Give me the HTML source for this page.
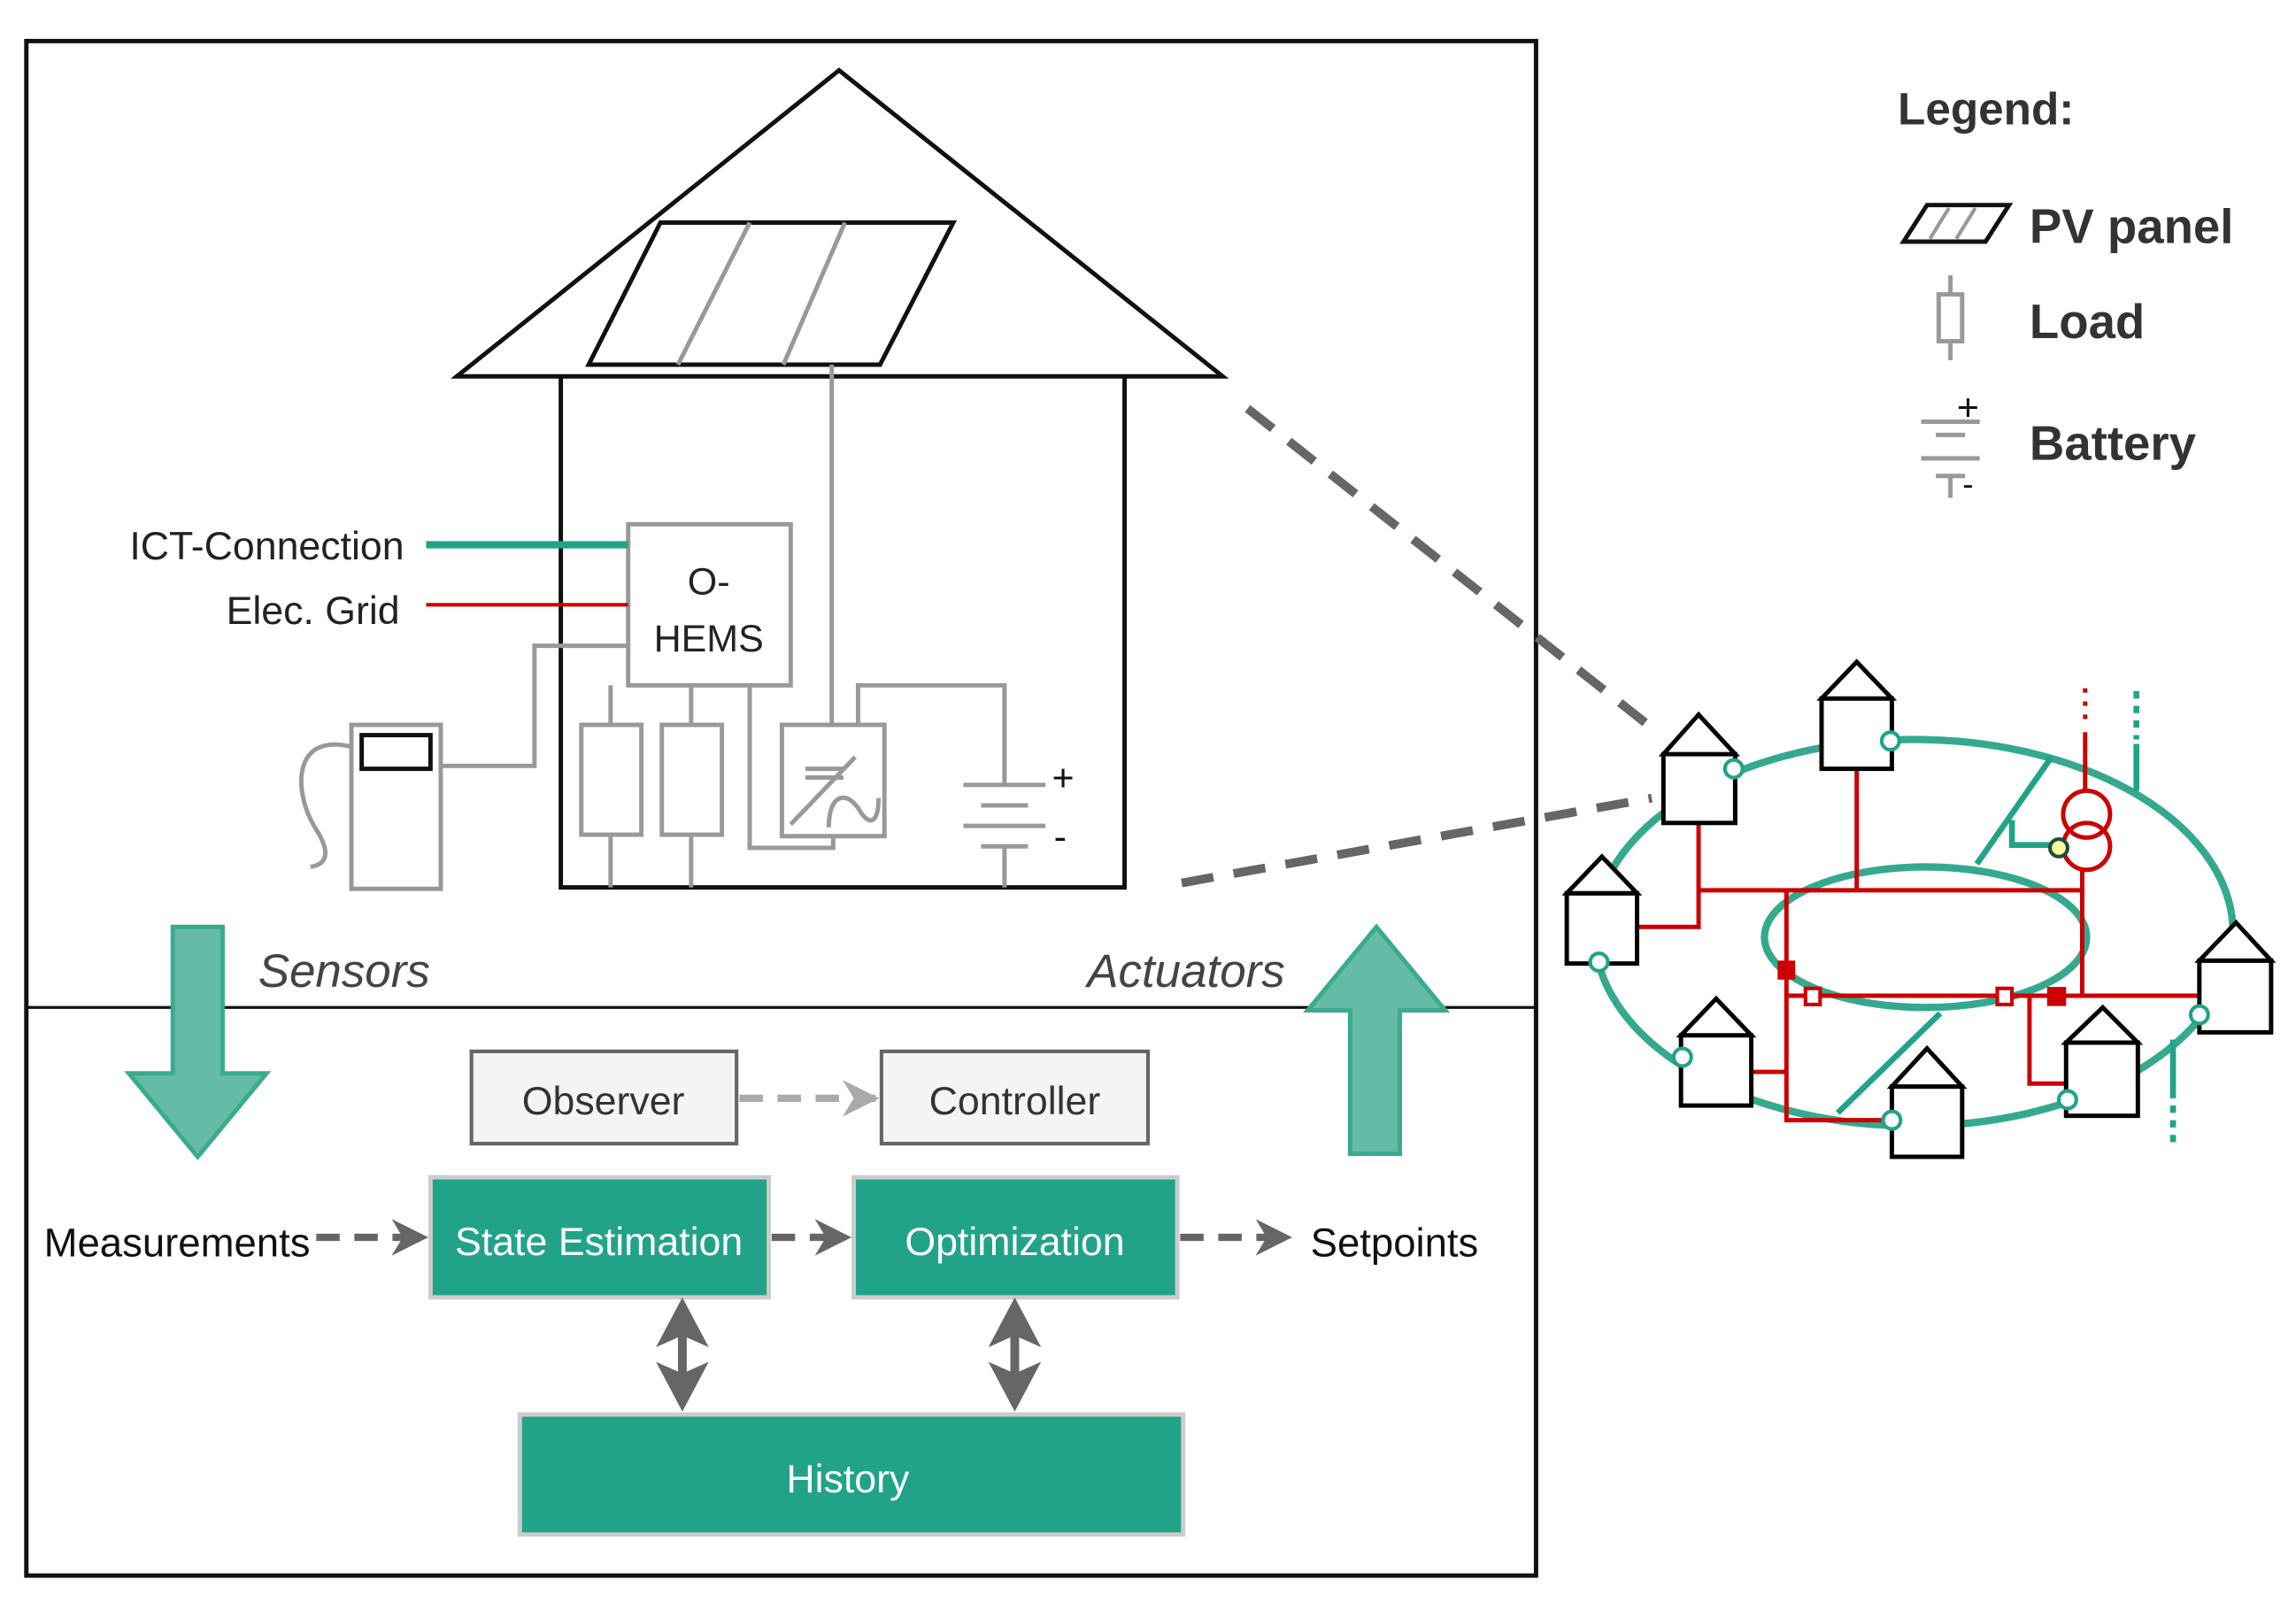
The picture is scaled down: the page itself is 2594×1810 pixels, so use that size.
<!DOCTYPE html>
<html><head><meta charset="utf-8"><style>
html,body{margin:0;padding:0;background:#fff;}
svg{display:block;}
text{font-family:"Liberation Sans",sans-serif;}
</style></head><body>
<svg width="2594" height="1810" viewBox="0 0 1568 1094" xmlns="http://www.w3.org/2000/svg">
<defs>
<marker id="ah" viewBox="0 0 10 10" refX="9" refY="5" markerWidth="5" markerHeight="5" orient="auto"><path d="M0,0 L10,5 L0,10 L3,5 Z" fill="#666"/></marker>
<marker id="ahl" viewBox="0 0 10 10" refX="9" refY="5" markerWidth="5" markerHeight="5" orient="auto"><path d="M0,0 L10,5 L0,10 L3,5 Z" fill="#aaa"/></marker>
</defs>
<rect x="18" y="28" width="1031" height="1048" fill="none" stroke="#111" stroke-width="3"/>
<line x1="18" y1="688" x2="1049" y2="688" stroke="#111" stroke-width="2"/>
<polygon points="312,257 573,48 835,257" fill="none" stroke="#111" stroke-width="3"/>
<polyline points="383,257 383,606 768,606 768,257" fill="none" stroke="#111" stroke-width="3"/>
<polygon points="402,249 451,152 651,152 601,249" fill="none" stroke="#111" stroke-width="3"/>
<line x1="463" y1="249" x2="512" y2="152" stroke="#999" stroke-width="3"/>
<line x1="535" y1="249" x2="577" y2="152" stroke="#999" stroke-width="3"/>
<g stroke="#999" stroke-width="3" fill="none">
<line x1="568" y1="249" x2="568" y2="495"/>
<rect x="429" y="358" width="111" height="110" fill="#fff"/>
<polyline points="429,441 365,441 365,523 301,523"/>
<rect x="240" y="495" width="61" height="112"/>
<path d="M240,510 C200,500 200,540 215,565 C225,580 225,590 212,592"/>
<line x1="417" y1="468" x2="417" y2="495"/>
<line x1="472" y1="468" x2="472" y2="495"/>
<rect x="397" y="495" width="41" height="75"/>
<rect x="452" y="495" width="41" height="75"/>
<line x1="417" y1="570" x2="417" y2="606"/>
<line x1="472" y1="570" x2="472" y2="606"/>
<polyline points="512,468 512,579 569,579 569,571"/>
<rect x="534" y="495" width="70" height="76"/>
<line x1="540" y1="563" x2="584" y2="517"/>
<line x1="550" y1="525" x2="576" y2="525"/><line x1="550" y1="531" x2="576" y2="531"/>
<path d="M566,565 C566,540 580,540 588,555 C595,565 600,560 600,545"/>
<polyline points="586,495 586,468 686,468 686,535"/>
<line x1="658" y1="536" x2="714" y2="536"/>
<line x1="670" y1="550" x2="702" y2="550"/>
<line x1="658" y1="564" x2="714" y2="564"/>
<line x1="670" y1="578" x2="702" y2="578"/>
<line x1="686" y1="578" x2="686" y2="606"/>
</g>
<rect x="247" y="502" width="47" height="23" fill="#fff" stroke="#111" stroke-width="3"/>
<text x="726" y="540" font-size="26" text-anchor="middle" fill="#111">+</text>
<text x="724" y="580" font-size="26" text-anchor="middle" fill="#111">-</text>
<text x="484" y="406" font-size="26" text-anchor="middle" fill="#222">O-</text>
<text x="484" y="445" font-size="26" text-anchor="middle" fill="#222">HEMS</text>
<line x1="291" y1="372" x2="429" y2="372" stroke="#21a389" stroke-width="5"/>
<line x1="291" y1="413" x2="429" y2="413" stroke="#cc0000" stroke-width="2.5"/>
<text x="276" y="382" font-size="27" text-anchor="end" fill="#222">ICT-Connection</text>
<text x="273" y="426" font-size="27" text-anchor="end" fill="#222">Elec. Grid</text>
<line x1="852" y1="279" x2="1128" y2="497" stroke="#666" stroke-width="6" stroke-dasharray="22,14"/>
<line x1="807" y1="603" x2="1128" y2="545" stroke="#666" stroke-width="6" stroke-dasharray="22,14"/>
<polygon points="118,633 152,633 152,733 182,733 135,790 88,733 118,733" fill="#64bca6" stroke="#3aaa8e" stroke-width="3"/>
<polygon points="940,633 987,690 956,690 956,788 922,788 922,690 893,690" fill="#64bca6" stroke="#3aaa8e" stroke-width="3"/>
<text x="235" y="674" font-size="32" font-style="italic" text-anchor="middle" fill="#444">Sensors</text>
<text x="810" y="674" font-size="32" font-style="italic" text-anchor="middle" fill="#444">Actuators</text>
<rect x="322" y="718" width="181" height="63" fill="#f4f4f4" stroke="#666" stroke-width="2.5"/>
<rect x="602" y="718" width="182" height="63" fill="#f4f4f4" stroke="#666" stroke-width="2.5"/>
<text x="412" y="761" font-size="27" text-anchor="middle" fill="#333">Observer</text>
<text x="693" y="761" font-size="27" text-anchor="middle" fill="#333">Controller</text>
<line x1="505" y1="750" x2="598" y2="750" stroke="#aaa" stroke-width="5" stroke-dasharray="16,10" marker-end="url(#ahl)"/>
<rect x="294" y="804" width="231" height="82" fill="#21a389" stroke="#ccc" stroke-width="3"/>
<rect x="583" y="804" width="221" height="82" fill="#21a389" stroke="#ccc" stroke-width="3"/>
<rect x="355" y="966" width="453" height="82" fill="#21a389" stroke="#ccc" stroke-width="3"/>
<text x="409" y="857" font-size="27" text-anchor="middle" fill="#fff">State Estimation</text>
<text x="693" y="857" font-size="27" text-anchor="middle" fill="#fff">Optimization</text>
<text x="579" y="1019" font-size="27" text-anchor="middle" fill="#fff">History</text>
<text x="30" y="858" font-size="27.5" fill="#111">Measurements</text>
<text x="895" y="858" font-size="27.5" fill="#111">Setpoints</text>
<g stroke="#666" stroke-width="5" fill="none" stroke-dasharray="16,10">
<line x1="216" y1="845" x2="290" y2="845" marker-end="url(#ah)"/>
<line x1="527" y1="845" x2="579" y2="845" marker-end="url(#ah)"/>
<line x1="806" y1="845" x2="880" y2="845" marker-end="url(#ah)"/>
</g>
<g fill="#666" stroke="none">
<polygon points="466,886 484,920 466,912 448,920"/>
<polygon points="466,964 484,930 466,938 448,930"/>
<rect x="463" y="912" width="6" height="26"/>
<polygon points="693,886 711,920 693,912 675,920"/>
<polygon points="693,964 711,930 693,938 675,930"/>
<rect x="690" y="912" width="6" height="26"/>
</g>
<g fill="none">
<ellipse cx="1307" cy="637" rx="218" ry="132" stroke="#35a98f" stroke-width="5"/>
<ellipse cx="1315" cy="640" rx="110" ry="48" stroke="#35a98f" stroke-width="5"/>
<line x1="1350" y1="590" x2="1401" y2="517" stroke="#21a389" stroke-width="4"/>
<polyline points="1374,560 1374,577 1404,577" stroke="#21a389" stroke-width="4"/>
<line x1="1255" y1="760" x2="1325" y2="692" stroke="#21a389" stroke-width="4"/>
<line x1="1459" y1="508" x2="1459" y2="540" stroke="#21a389" stroke-width="4"/>
<line x1="1459" y1="472" x2="1459" y2="505" stroke="#21a389" stroke-width="4" stroke-dasharray="5,5"/>
<line x1="1484" y1="710" x2="1484" y2="750" stroke="#21a389" stroke-width="4"/>
<line x1="1484" y1="755" x2="1484" y2="782" stroke="#21a389" stroke-width="4" stroke-dasharray="5,5"/>
<g stroke="#cc0000" stroke-width="3">
<polyline points="1160,562 1160,633 1118,633"/>
<line x1="1160" y1="608" x2="1422" y2="608"/>
<line x1="1268" y1="525" x2="1268" y2="608"/>
<polyline points="1422,594 1422,680"/>
<polyline points="1220,608 1220,765 1292,765"/>
<line x1="1196" y1="732" x2="1220" y2="732"/>
<line x1="1220" y1="680" x2="1502" y2="680"/>
<polyline points="1386,680 1386,740 1411,740"/>
<line x1="1424" y1="500" x2="1424" y2="540"/>
<line x1="1424" y1="470" x2="1424" y2="495" stroke-dasharray="3,6"/>
<circle cx="1425" cy="556" r="16"/>
<circle cx="1425" cy="578" r="16"/>
</g>
<rect x="1214" y="656" width="12" height="13" fill="#cc0000"/>
<rect x="1398" y="674" width="13" height="13" fill="#cc0000"/>
<rect x="1233" y="675" width="10" height="11" fill="#fff" stroke="#cc0000" stroke-width="2.5"/>
<rect x="1364" y="675" width="10" height="11" fill="#fff" stroke="#cc0000" stroke-width="2.5"/>
<circle cx="1406" cy="579" r="6" fill="#ffff99" stroke="#1d4d40" stroke-width="2.5"/>
<g stroke="#000" stroke-width="3" fill="#fff">
<rect x="1136" y="515" width="49" height="47"/><polygon points="1136,515 1160,488 1185,515"/>
<rect x="1244" y="477" width="48" height="48"/><polygon points="1244,477 1268,452 1292,477"/>
<rect x="1070" y="610" width="48" height="48"/><polygon points="1070,610 1094,585 1118,610"/>
<rect x="1148" y="707" width="48" height="48"/><polygon points="1148,707 1172,682 1196,707"/>
<rect x="1292" y="742" width="48" height="48"/><polygon points="1292,742 1316,716 1340,742"/>
<rect x="1411" y="712" width="49" height="50"/><polygon points="1411,712 1436,688 1460,712"/>
<rect x="1502" y="656" width="49" height="49"/><polygon points="1502,656 1527,630 1551,656"/>
</g>
<g stroke="#21a389" stroke-width="2.5" fill="#fff">
<circle cx="1184" cy="525" r="6"/><circle cx="1291" cy="506" r="6"/><circle cx="1092" cy="657" r="6"/>
<circle cx="1149" cy="722" r="6"/><circle cx="1292" cy="765" r="6"/><circle cx="1412" cy="751" r="6"/><circle cx="1502" cy="693" r="6"/>
</g>
</g>
<text x="1296" y="85" font-size="31" font-weight="bold" fill="#333">Legend:</text>
<polygon points="1300,165 1316,140 1372,140 1356,165" fill="none" stroke="#111" stroke-width="3"/>
<line x1="1318" y1="163" x2="1331" y2="142" stroke="#999" stroke-width="2.5"/>
<line x1="1336" y1="163" x2="1349" y2="142" stroke="#999" stroke-width="2.5"/>
<text x="1386" y="166" font-size="33" font-weight="bold" fill="#333">PV panel</text>
<g stroke="#999" stroke-width="3" fill="none">
<line x1="1332" y1="188" x2="1332" y2="201"/><rect x="1324" y="201" width="16" height="32"/><line x1="1332" y1="233" x2="1332" y2="246"/>
<line x1="1312" y1="288" x2="1352" y2="288"/><line x1="1322" y1="297" x2="1342" y2="297"/>
<line x1="1312" y1="313" x2="1352" y2="313"/><line x1="1322" y1="325" x2="1342" y2="325"/><line x1="1332" y1="325" x2="1332" y2="340"/>
</g>
<text x="1344" y="287" font-size="26" text-anchor="middle" fill="#111">+</text>
<text x="1344" y="338" font-size="22" text-anchor="middle" fill="#111">-</text>
<text x="1386" y="231" font-size="33" font-weight="bold" fill="#333">Load</text>
<text x="1386" y="314" font-size="33" font-weight="bold" fill="#333">Battery</text>
</svg>
</body></html>
